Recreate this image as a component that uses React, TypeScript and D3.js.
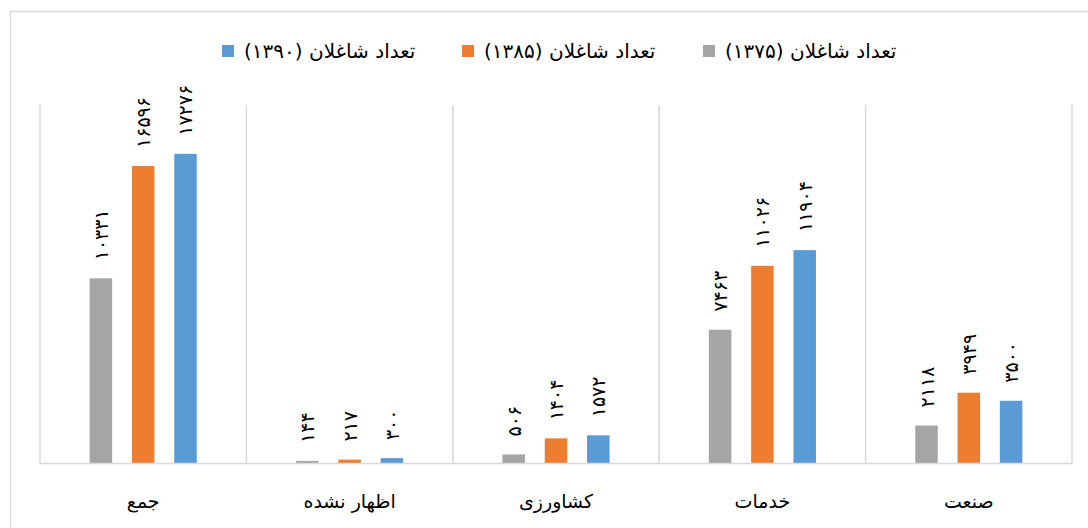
import React from "react";
import * as d3 from "d3";

const categories = ["جمع", "اظهار نشده", "کشاورزی", "خدمات", "صنعت"];
const seriesNames = ["تعداد شاغلان (۱۳۷۵)", "تعداد شاغلان (۱۳۸۵)", "تعداد شاغلان (۱۳۹۰)"];
const seriesColors = ["#A5A5A5", "#ED7D31", "#5B9BD5"];
const values1375 = [10331, 144, 506, 7463, 2118];
const values1385 = [16596, 217, 1404, 11026, 3949];
const values1390 = [17276, 300, 1572, 11904, 3500];
const seriesValues = [values1375, values1385, values1390];
const yDomainMax = 20000;

const toFa = (n: number) => String(n).replace(/[0-9]/g, (d) => "۰۱۲۳۴۵۶۷۸۹"[+d]);

const FONT = "'DejaVu Sans', 'Noto Sans', sans-serif";

export default function App() {
  const W = 1088, H = 528;
  const left = 40, right = 1072, top = 105, bottom = 463.5;
  const x = d3.scaleBand<string>().domain(categories).range([left, right]).padding(0);
  const y = d3.scaleLinear().domain([0, yDomainMax]).range([bottom, top]);
  const inner = d3
    .scaleBand<number>()
    .domain([0, 1, 2])
    .range([-53.55, 53.55])
    .paddingInner(0.468)
    .paddingOuter(0);
  const bw = inner.bandwidth();

  // legend swatches (left of each text): 1375 gray, 1385 orange, 1390 blue
  const legendSwatchX = [703, 462, 222];

  return (
    <svg width={W} height={H} style={{ position: "absolute", left: 0, top: 0 }}>
      <rect x={0} y={0} width={W} height={H} fill="#fff" />
      <rect x={10.5} y={11.5} width={W + 20} height={H + 20} fill="none" stroke="#D9D9D9" strokeWidth={1.5} />
      {[left, ...categories.map((c) => (x(c) as number) + x.bandwidth())].map((sx, i) => (
        <line key={i} x1={sx} x2={sx} y1={top} y2={bottom} stroke="#D9D9D9" strokeWidth={1.5} />
      ))}
      {categories.map((c, ci) => {
        const cx = (x(c) as number) + x.bandwidth() / 2;
        return (
          <g key={c}>
            {seriesValues.map((vals, si) => {
              const bx = cx + (inner(si) as number);
              const by = y(vals[ci]);
              return (
                <g key={si}>
                  <rect x={bx} y={by} width={bw} height={bottom - by} fill={seriesColors[si]} />
                  <text
                    transform={`translate(${bx + bw / 2},${by - 18}) rotate(-90)`}
                    textAnchor="start"
                    dominantBaseline="central"
                    fontFamily={FONT}
                    fontSize={19}
                    fill="#000"
                  >
                    {toFa(vals[ci])}
                  </text>
                </g>
              );
            })}
            <text
              x={cx}
              y={508}
              textAnchor="middle"
              fontFamily={FONT}
              fontSize={19}
              fill="#000"
              direction="rtl"
            >
              {c}
            </text>
          </g>
        );
      })}
      <line x1={left} x2={right} y1={bottom} y2={bottom} stroke="#D9D9D9" strokeWidth={1.5} />
      {seriesNames.map((name, si) => (
        <g key={name}>
          <rect x={legendSwatchX[si]} y={45} width={12} height={12} fill={seriesColors[si]} />
          <text
            x={legendSwatchX[si] + 22}
            y={58}
            textAnchor="end"
            direction="rtl"
            fontFamily={FONT}
            fontSize={20}
            fill="#000"
          >
            {name}
          </text>
        </g>
      ))}
    </svg>
  );
}
